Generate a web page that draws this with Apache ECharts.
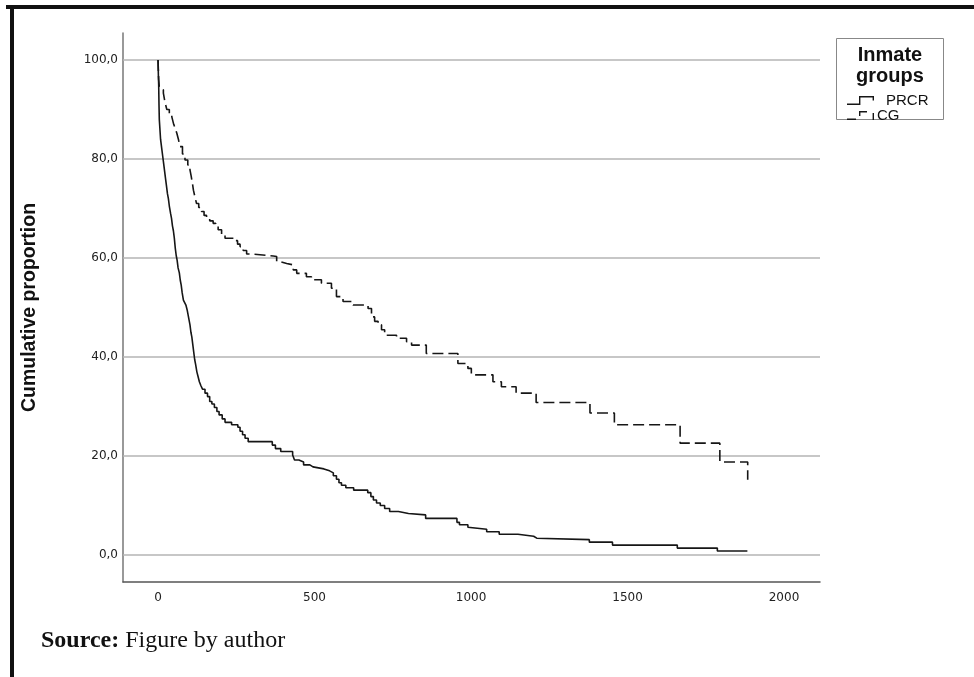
<!DOCTYPE html>
<html>
<head>
<meta charset="utf-8">
<script src="https://cdn.jsdelivr.net/npm/echarts@6/dist/echarts.min.js"></script>
<style>
html,body{margin:0;padding:0;background:#fff;}
#chart{width:974px;height:677px;}
</style>
</head>
<body>
<div id="chart"></div>
<script>
// ---- data ----
const seriesNames = ['PRCR', 'CG'];
const xTickValues = [0, 500, 1000, 1500, 2000];
const yTickValues = [0, 20, 40, 60, 80, 100];

// Kaplan-Meier style cumulative proportion, [time, value]
const prcrPoints = [
  [0,100],[1,97],[2,95],[3,91],[4,88],[6,86],[8,84],[10,83],[12,82],[15,80.5],[18,79],[21,77.5],
  [24,76],[27,74.5],[30,73],[33,72],[36,70.5],[40,69],[43,68],[46,66.5],[49,65.5],[52,64],[55,62],
  [58,60.5],[61,59.5],[64,58],[68,57],[71,55.5],[74,54.5],[77,53],[81,51.5],[85,51],[89,50.5],
  [93,49.5],[96,48.5],[99,47.5],[102,46.5],[105,45],[108,44],[111,42.5],[114,41],[117,39.5],
  [120,38.5],[124,37],[128,36],[132,35],[137,34.2],[142,33.5],[150,32.7],[158,32],[165,31],
  [172,30.5],[180,29.8],[188,29],[195,28.3],[205,27.5],[214,26.8],[235,26.3],[255,25.8],[262,25],
  [270,24.3],[278,23.6],[288,22.9],[365,22.2],[375,21.5],[392,20.9],[430,20.2],[436,19.2],
  [450,18.8],[465,18.2],[485,17.8],[495,17.4],[530,17.0],[548,16.6],[560,16.0],[570,15.3],
  [578,14.6],[586,14.1],[600,13.6],[625,13.1],[670,12.6],[680,11.8],[688,11.1],[698,10.5],
  [710,10.0],[724,9.4],[740,8.8],[768,8.4],[800,8.1],[855,7.4],[955,6.6],[963,6.1],[990,5.6],
  [996,5.2],[1050,4.7],[1090,4.2],[1150,3.8],[1200,3.4],[1210,3.1],[1378,2.6],[1452,2.0],
  [1659,1.4],[1787,0.8],[1883,0.8]
];
const cgPoints = [
  [0,100],[2,96],[4,94.6],[10,94],[17,93.3],[22,91.5],[28,90],[36,89],[44,88.5],[50,87],[56,86],
  [60,85.2],[65,84],[70,82.5],[78,81],[86,79.8],[95,78.8],[102,77.8],[106,76.5],[110,75],[113,73.7],
  [118,72.3],[123,71],[130,70.2],[139,69.4],[147,68.6],[155,68],[165,67.5],[176,67],[184,66.4],
  [192,65.7],[203,64.8],[214,64],[246,63.5],[254,62.8],[262,62.3],[272,61.5],[283,60.8],[299,60.4],
  [368,60.3],[379,59.3],[389,58.9],[411,58.6],[432,57.6],[443,56.9],[474,56.2],[490,55.6],
  [522,54.9],[554,53.9],[570,52.2],[591,51.2],[623,50.5],[671,49.8],[682,48.1],[692,47.2],
  [703,46.5],[714,45.5],[724,44.4],[762,43.8],[794,43.1],[810,42.4],[857,40.7],[958,38.7],
  [990,37.7],[1001,36.4],[1070,35.0],[1097,34.0],[1144,32.7],[1208,30.8],[1380,28.7],[1458,26.3],
  [1668,22.6],[1795,18.8],[1884,15.2]
];

// ---- chart ----
const chart = echarts.init(document.getElementById('chart'), null, {renderer: 'canvas'});
const fontSans = '"Liberation Sans", Arial, sans-serif';
const fontTick = '"DejaVu Sans", Verdana, sans-serif';
const fontSerif = '"Liberation Serif", "Times New Roman", serif';
const lineColor = '#161616';

// legend glyphs (28 x 9 box)
const solidIcon = 'path://M0,7.6 H13.4 V9 H0 Z M12,0 H13.4 V9 H12 Z M12,0 H27 V1.4 H12 Z M25.6,0 H27 V4.5 H25.6 Z M27.9,0 H28 V0.05 H27.9 Z';
const dashIcon = 'path://M0,7.6 H9 V9 H0 Z M12,0 H13.4 V5 H12 Z M12,0 H20 V1.4 H12 Z M25.6,2 H27 V9 H25.6 Z M27.9,0 H28 V0.05 H27.9 Z';

chart.setOption({
  animation: false,
  backgroundColor: '#ffffff',
  grid: {left: 123, right: 154, top: 33, bottom: 95, containLabel: false},
  xAxis: {
    type: 'value', min: -112, max: 2115,
    axisLine: {show: true, onZero: false, lineStyle: {color: '#555', width: 1.5}},
    axisTick: {show: false},
    splitLine: {show: false},
    axisLabel: {customValues: xTickValues, color: '#222', fontFamily: fontTick, fontSize: 12, margin: 10,
      formatter: v => String(v)}
  },
  yAxis: {
    type: 'value', min: -5.45, max: 105.45,
    name: 'Cumulative proportion', nameLocation: 'middle', nameGap: 83, nameRotate: 90,
    nameTextStyle: {fontFamily: fontSans, fontWeight: 'bold', fontSize: 19.5, color: '#111'},
    axisLine: {show: true, onZero: false, lineStyle: {color: '#777', width: 1.5}},
    axisTick: {show: false},
    splitLine: {show: false},
    axisLabel: {customValues: yTickValues, color: '#222', fontFamily: fontTick, fontSize: 12, margin: 5,
      formatter: v => v.toFixed(1).replace('.', ',')}
  },
  legend: {
    orient: 'vertical', left: 847, top: 93,
    padding: 0,
    itemGap: 0, itemWidth: 28, itemHeight: 9,
    selectedMode: false,
    textStyle: {fontFamily: fontSans, fontSize: 15, color: '#111', lineHeight: 13},
    itemStyle: {color: lineColor, borderWidth: 0},
    lineStyle: {width: 0},
    data: [
      {name: seriesNames[0], icon: solidIcon, textStyle: {padding: [0, 0, 0, 6]}},
      {name: seriesNames[1], icon: dashIcon, textStyle: {padding: [0, 0, 0, -3]}}
    ]
  },
  graphic: [
    {type: 'line', shape: {x1: 6, y1: 7, x2: 974, y2: 7}, style: {stroke: '#111', lineWidth: 4}},
    {type: 'line', shape: {x1: 12, y1: 5, x2: 12, y2: 677}, style: {stroke: '#111', lineWidth: 4}},
    {type: 'rect', shape: {x: 836.5, y: 38.5, width: 107, height: 81}, style: {fill: 'none', stroke: '#888', lineWidth: 1}, z: 0},
    {type: 'text', x: 890, y: 45, style: {text: 'Inmate\ngroups', font: 'bold 20px "Liberation Sans", Arial, sans-serif', fill: '#111', align: 'center', verticalAlign: 'top', lineHeight: 21}},
    {type: 'text', x: 41, y: 641, style: {
      text: '{b|Source:} Figure by author', verticalAlign: 'middle',
      font: '24px "Liberation Serif", "Times New Roman", serif', fill: '#111',
      rich: {b: {fontWeight: 'bold', fontFamily: fontSerif, fontSize: 24, fill: '#111'}}
    }}
  ],
  series: [
    {
      name: seriesNames[0], type: 'line', step: 'end', data: prcrPoints,
      symbol: 'none', color: lineColor,
      lineStyle: {color: lineColor, width: 1.6, type: 'solid'},
      z: 3,
      markLine: {
        silent: true, symbol: 'none', label: {show: false},
        lineStyle: {color: '#b4b4b4', width: 1.5, type: 'solid'},
        data: yTickValues.map(v => ({yAxis: v})),
        z: 1
      }
    },
    {
      name: seriesNames[1], type: 'line', step: 'end', data: cgPoints,
      symbol: 'none', color: lineColor,
      lineStyle: {color: lineColor, width: 1.6, type: [11, 5]},
      z: 3
    }
  ]
});
</script>
</body>
</html>
